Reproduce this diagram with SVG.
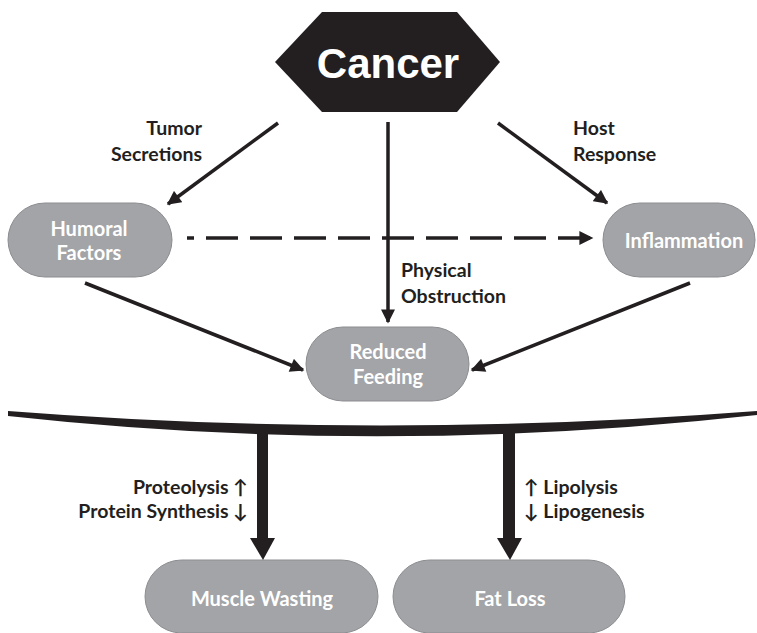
<svg xmlns="http://www.w3.org/2000/svg" width="757" height="633" viewBox="0 0 757 633">
<defs>
<style>
.pill{fill:#a3a4a7;stroke:#8c8d90;stroke-width:1}
.pt{font-family:Lato,"Open Sans","Liberation Sans",sans-serif;font-weight:bold;font-size:20px;fill:#ffffff;text-anchor:middle}
.lb{font-family:Lato,"Open Sans","Liberation Sans",sans-serif;font-weight:bold;font-size:19.5px;fill:#231f20}
.ar{stroke:#231f20;stroke-width:3.5;fill:none}
</style>
<marker id="ah" viewBox="0 0 10 10" refX="9" refY="5" markerWidth="4.2" markerHeight="4" orient="auto" markerUnits="strokeWidth">
<path d="M0,0 L10,5 L0,10 Z" fill="#231f20"/>
</marker>
</defs>
<rect width="757" height="633" fill="#ffffff"/>
<g id="cancer">
<polygon points="322,12 457,12 500,62 457,112 322,112 275,62" fill="#231f20"/>
<text x="388" y="78" font-family="'Liberation Sans',Arial,sans-serif" font-weight="bold" font-size="42" fill="#ffffff" text-anchor="middle">Cancer</text>
</g>
<g id="humoral">
<rect class="pill" x="8" y="203" width="164" height="74" rx="37"/>
<text class="pt" x="89" y="236">Humoral</text>
<text class="pt" x="89" y="260">Factors</text>
</g>
<g id="inflammation">
<rect class="pill" x="603" y="203" width="152" height="74" rx="37"/>
<text class="pt" x="684" y="248">Inflammation</text>
</g>
<g id="reduced">
<rect class="pill" x="306" y="327" width="163" height="74" rx="37"/>
<text class="pt" x="388" y="359">Reduced</text>
<text class="pt" x="388" y="384">Feeding</text>
</g>
<g id="muscle">
<rect class="pill" x="145" y="560" width="233" height="73" rx="36.5"/>
<text class="pt" x="262" y="606">Muscle Wasting</text>
</g>
<g id="fat">
<rect class="pill" x="393" y="560" width="232" height="73" rx="36.5"/>
<text class="pt" x="510" y="606">Fat Loss</text>
</g>
<g id="bar">
<path d="M8,411 Q380,440 757,411 L757,415 Q380,457 8,416 Z" fill="#231f20"/>
</g>
<g id="connectors">
<line class="ar" x1="278" y1="123" x2="168" y2="204" marker-end="url(#ah)"/>
<line class="ar" x1="388" y1="122" x2="388" y2="322" marker-end="url(#ah)"/>
<line class="ar" x1="498" y1="123" x2="607" y2="203" marker-end="url(#ah)"/>
<line class="ar" x1="187" y1="238" x2="592" y2="238" stroke-dasharray="32 12" stroke-dashoffset="25" marker-end="url(#ah)"/>
<line class="ar" x1="85" y1="283" x2="303" y2="370" marker-end="url(#ah)"/>
<line class="ar" x1="690" y1="283" x2="472" y2="370" marker-end="url(#ah)"/>
<rect x="257" y="428" width="11" height="112" fill="#231f20"/>
<polygon points="250,538 275,538 263,560" fill="#231f20"/>
<rect x="503" y="428" width="12" height="112" fill="#231f20"/>
<polygon points="497,538 522,538 510,560" fill="#231f20"/>
</g>
<g id="labels">
<text class="lb" x="202" y="135" text-anchor="end">Tumor</text>
<text class="lb" x="202" y="161" text-anchor="end">Secretions</text>
<text class="lb" x="573" y="135">Host</text>
<text class="lb" x="573" y="161">Response</text>
<text class="lb" x="401" y="277">Physical</text>
<text class="lb" x="401" y="303">Obstruction</text>
<text class="lb" x="248" y="494" text-anchor="end">Proteolysis ↑</text>
<text class="lb" x="248" y="518" text-anchor="end">Protein Synthesis ↓</text>
<text class="lb" x="524" y="494">↑ Lipolysis</text>
<text class="lb" x="524" y="518">↓ Lipogenesis</text>
</g>
</svg>
